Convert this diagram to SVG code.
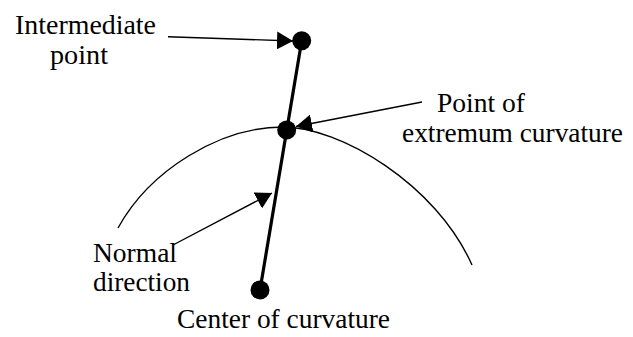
<svg xmlns="http://www.w3.org/2000/svg" width="633" height="337" viewBox="0 0 633 337">
<style>
text{font-family:'Liberation Serif','Times New Roman',Tinos,'DejaVu Serif','Noto Serif',serif;font-size:27.5px;fill:#000}
.thin{stroke:#000;stroke-width:1.4;fill:none}
.thick{stroke:#000;stroke-width:3.2;fill:none}
.dot{fill:#000}
</style>
<defs>
<marker id="ah" viewBox="0 0 16 18" refX="16" refY="9" markerWidth="16" markerHeight="18" markerUnits="userSpaceOnUse" orient="auto">
<path d="M0,0 L16,9 L0,18 z" fill="#000"/>
</marker>
</defs>
<g id="curve">
<path class="thin" d="M118,228 C150,170 220,127 283,127 C340,127 436,184 472,265"/>
</g>
<g id="connectors">
<line class="thick" x1="301.7" y1="40.7" x2="260" y2="290"/>
<line class="thin" x1="168" y1="36.7" x2="293" y2="41" marker-end="url(#ah)"/>
<line class="thin" x1="422" y1="102" x2="296" y2="126.5" marker-end="url(#ah)"/>
<line class="thin" x1="173" y1="245" x2="272" y2="193" marker-end="url(#ah)"/>
</g>
<g id="intermediate-point">
<circle class="dot" cx="301.7" cy="40.7" r="9.5"/>
<text x="15" y="34" textLength="141" lengthAdjust="spacingAndGlyphs">Intermediate</text>
<text x="50" y="64" textLength="58" lengthAdjust="spacingAndGlyphs">point</text>
</g>
<g id="extremum-point">
<circle class="dot" cx="286.7" cy="130" r="9.5"/>
<text x="437" y="112" textLength="88" lengthAdjust="spacingAndGlyphs">Point of</text>
<text x="402" y="142" textLength="221" lengthAdjust="spacingAndGlyphs">extremum curvature</text>
</g>
<g id="normal-direction">
<text x="93" y="262" textLength="84" lengthAdjust="spacingAndGlyphs">Normal</text>
<text x="93" y="291" textLength="97" lengthAdjust="spacingAndGlyphs">direction</text>
</g>
<g id="center-of-curvature">
<circle class="dot" cx="260" cy="290" r="9.5"/>
<text x="177" y="328" textLength="213" lengthAdjust="spacingAndGlyphs">Center of curvature</text>
</g>
</svg>
